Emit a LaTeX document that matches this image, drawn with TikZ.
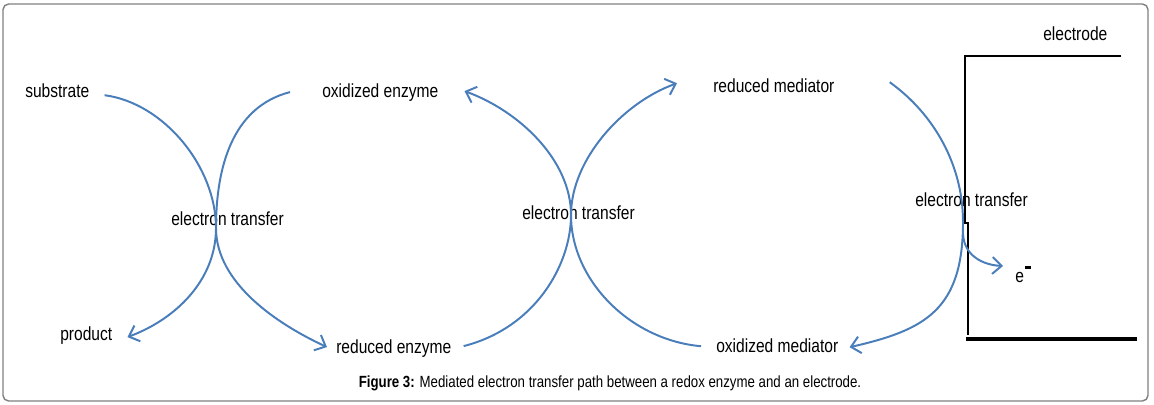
\documentclass[tikz,border=0pt]{standalone}
\usepackage{fontspec}
\setmainfont{Liberation Sans}
\newfontfamily\figfont[FakeStretch=0.82]{Liberation Sans}
\usetikzlibrary{arrows.meta}
\definecolor{flowblue}{RGB}{74,126,187}

\begin{document}
\begin{tikzpicture}[x=0.025cm,y=-0.025cm,
    lbl/.style={anchor=base west,inner sep=0pt,font=\figfont\fontsize{13.5}{16}\selectfont},
    flow/.style={draw=flowblue,line width=1.4pt,-{Straight Barb[length=6.5pt,width=12pt]}}]
   \useasboundingbox (0,0) rectangle (1154,405);
   \draw[gray,line width=1pt,rounded corners=4pt] (3,4) rectangle (1148,401);

   \node[lbl] (sub)  at (25,98)   {substrate};
   \node[lbl] (prod) at (60,340)  {product};
   \node[lbl] (oxe)  at (322,98)  {oxidized enzyme};
   \node[lbl] (rede) at (336,353) {reduced enzyme};
   \node[lbl] (redm) at (713,93)  {reduced mediator};
   \node[lbl] (oxm)  at (716,352) {oxidized mediator};
   \node[lbl] (elec) at (1043,41) {electrode};
   \node[lbl] (et1)  at (171,226) {electron transfer};
   \node[lbl] (et2)  at (522,220) {electron transfer};
   \node[lbl] (et3)  at (915,207) {electron transfer};
   \node[lbl] (em)   at (1015,283) {e\hspace{0.6pt}\raisebox{10pt}{\rule{4.3pt}{2pt}}};

   \coordinate (x1) at (216,228);
   \coordinate (x2) at (571,215);
   \coordinate (x3) at (963,222);
   \coordinate (x3e) at (963,234);

   % electrode
   \draw[line width=1pt] (1121,56) -- (965,56) -- (965,223) -- (968,223) -- (968,335);
   \draw[line width=2.2pt] (966,339) -- (1137,339);

   \draw[flow] ([shift={(15,4)}]sub.east) .. controls (164,103) and (216,167) .. (x1)
      .. controls (216,280) and (176,319) .. ([shift={(15,2)}]prod.east);
   \draw[flow] ([shift={(-32,-1)}]oxe.west) .. controls (232,107) and (216,168) .. (x1)
      .. controls (216,283) and (277,324) .. ([shift={(-9,-1)}]rede.west);
   \draw[flow] ([shift={(12,-2)}]rede.east) .. controls (535,328) and (571,265) .. (x2)
      .. controls (571,160) and (519,111) .. ([shift={(26,-2)}]oxe.east);
   \draw[flow] ([shift={(-15,1)}]oxm.west) .. controls (630,340) and (571,280) .. (x2)
      .. controls (571,160) and (622,103) .. ([shift={(-36,-3)}]redm.west);
   \draw[flow] ([shift={(55,-4)}]redm.east) .. controls (934,114) and (963,165) .. (x3)
      .. controls (963,310) and (925,330) .. ([shift={(11,2)}]oxm.east);
   \draw[flow] (x3e) .. controls (964,255) and (982,265) .. ([shift={(-12,-17)}]em.base west);

   \node[anchor=base,inner sep=0pt,font=\figfont\fontsize{11.5}{14}\selectfont] (cap) at (610,387)
      {\textbf{Figure 3:} Mediated electron transfer path between a redox enzyme and an electrode.};
\end{tikzpicture}
\end{document}
